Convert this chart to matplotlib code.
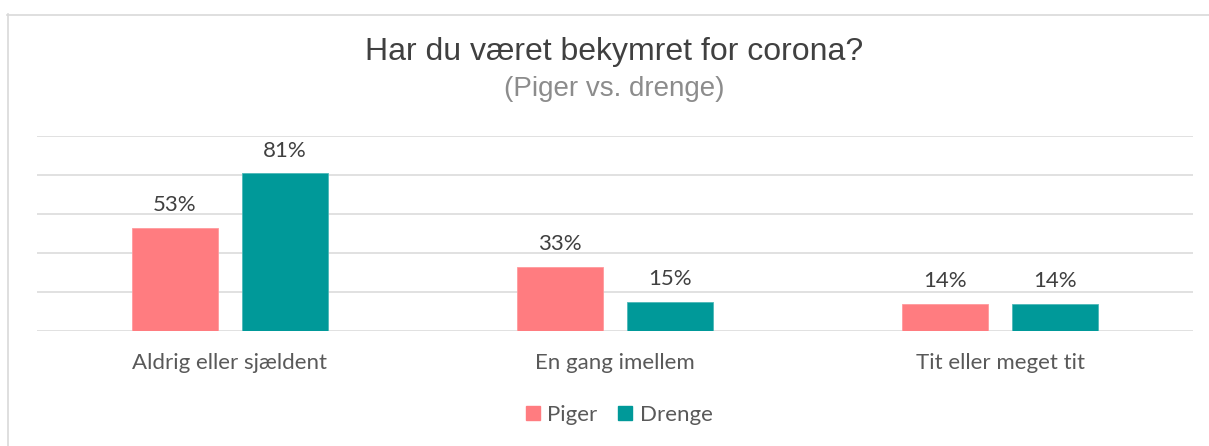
import matplotlib.pyplot as plt
import numpy as np
from matplotlib.lines import Line2D

# Data
categories = ['Aldrig eller sjældent', 'En gang imellem', 'Tit eller meget tit']
piger = [53, 33, 14]
drenge = [81, 15, 14]
series_names = ['Piger', 'Drenge']
colors = ['#FF7C80', '#009999']

W, H = 1209, 446
fig = plt.figure(figsize=(W / 100, H / 100), dpi=100)
fig.patch.set_facecolor('white')

# plot area in pixel coords -> figure fractions
left, right, top, bottom = 37, 1193, 136, 331
ax = fig.add_axes([left / W, 1 - bottom / H, (right - left) / W, (bottom - top) / H])

x = np.arange(len(categories))
bw = 0.223
off = 0.1427
b1 = ax.bar(x - off, piger, bw, color=colors[0], edgecolor='#ff9a9d', linewidth=0.6, zorder=3)
b2 = ax.bar(x + off, drenge, bw, color=colors[1], edgecolor='#4db8b8', linewidth=0.6, zorder=3)

for bars, vals in [(b1, piger), (b2, drenge)]:
    for b, v in zip(bars, vals):
        ax.annotate(f'{v}%', (b.get_x() + b.get_width() / 2, v), xytext=(0, 9),
                    textcoords='offset points', ha='center', va='bottom',
                    fontsize=16, color='#404040', family='Lato')

ax.set_xlim(-0.5, 2.5)
ax.set_ylim(0, 100)
ax.set_yticks([0, 20, 40, 60, 80, 100])
ax.yaxis.grid(True, color='#d9d9d9', linewidth=1.1, zorder=0)
ax.tick_params(axis='y', left=False, labelleft=False)
ax.tick_params(axis='x', length=0, pad=16)
ax.set_xticks(x)
ax.set_xticklabels(categories, fontsize=16, color='#595959', family='Lato')
for s in ax.spines.values():
    s.set_visible(False)

# title and subtitle
fig.text(614 / W, 1 - 52 / H, 'Har du været bekymret for corona?', ha='center', va='center',
         fontsize=23, color='#404040', family='Liberation Sans')
fig.text(614 / W, 1 - 89 / H, '(Piger vs. drenge)', ha='center', va='center',
         fontsize=20, color='#8c8c8c', family='Liberation Sans')

# legend
handles = [Line2D([], [], marker='s', linestyle='', markersize=10.5, color=c) for c in colors]
fig.legend(handles, series_names, loc='center', bbox_to_anchor=(619 / W, 1 - 415 / H),
           ncol=2, frameon=False, prop={'family': 'Lato', 'size': 16},
           labelcolor='#595959', handlelength=0.7, handletextpad=0.3, columnspacing=0.9)

# chart frame (only left and top visible)
fig.add_artist(Line2D([7.5 / W, 7.5 / W], [0, 1 - 14 / H], color='#d9d9d9', linewidth=1.2))
fig.add_artist(Line2D([7 / W, 1], [1 - 14.5 / H, 1 - 14.5 / H], color='#d9d9d9', linewidth=1.2))

fig.savefig('out.png', dpi=100)
